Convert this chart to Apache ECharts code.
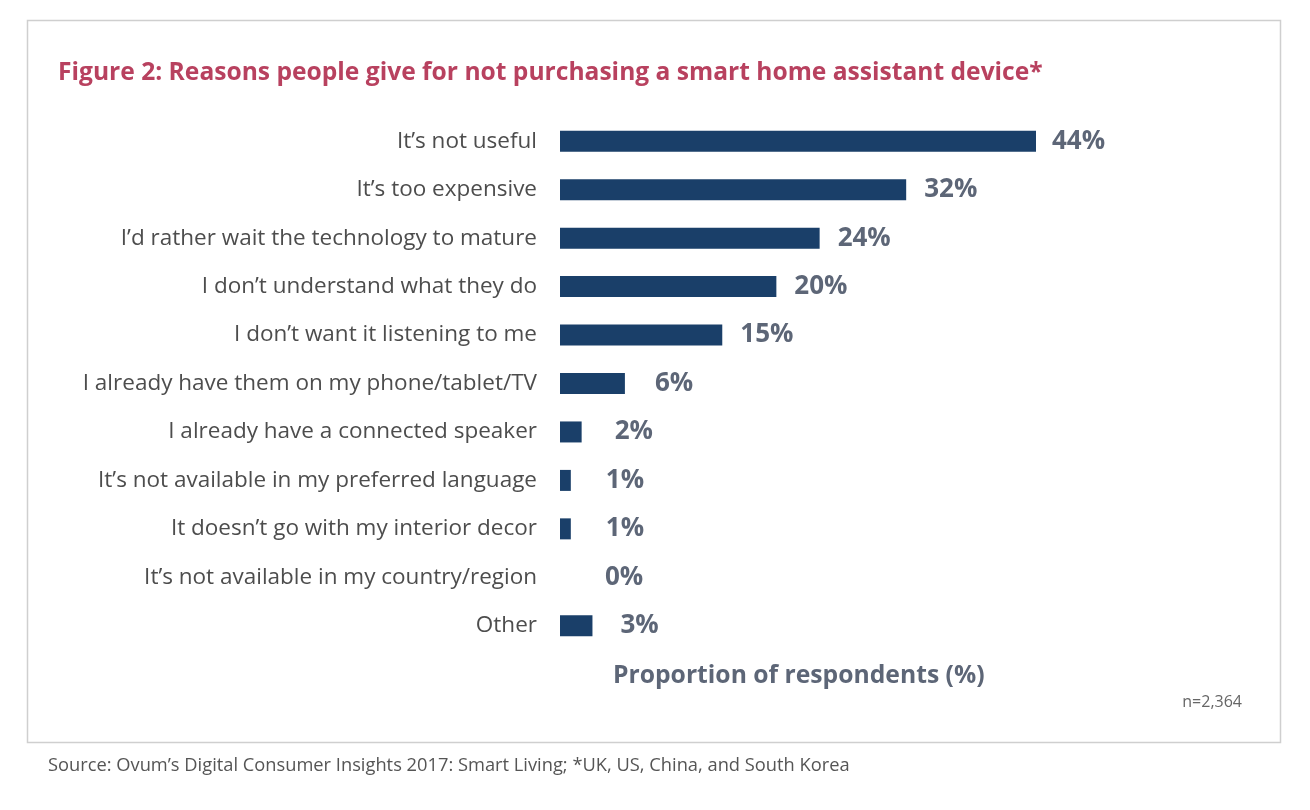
<!DOCTYPE html>
<html><head><meta charset="utf-8">
<script src="https://cdn.jsdelivr.net/npm/echarts@6/dist/echarts.min.js"></script>
<style>html,body{margin:0;padding:0;background:#fff}#c{width:1310px;height:810px}</style>
</head><body><div id="c"></div>
<script>
const categories = [
  "It’s not useful",
  "It’s too expensive",
  "I’d rather wait the technology to mature",
  "I don’t understand what they do",
  "I don’t want it listening to me",
  "I already have them on my phone/tablet/TV",
  "I already have a connected speaker",
  "It’s not available in my preferred language",
  "It doesn’t go with my interior decor",
  "It’s not available in my country/region",
  "Other"
];
const values = [44, 32, 24, 20, 15, 6, 2, 1, 1, 0, 3];
const titleText = "Figure 2: Reasons people give for not purchasing a smart home assistant device*";
const axisTitle = "Proportion of respondents (%)";
const sampleNote = "n=2,364";
const sourceNote = "Source: Ovum’s Digital Consumer Insights 2017: Smart Living; *UK, US, China, and South Korea";

const labelGaps = [16, 18, 18, 18, 18, 30, 33, 35, 35, 45, 28];

const chart = echarts.init(document.getElementById('c'));
chart.setOption({
  animation: false,
  backgroundColor: '#fff',
  graphic: [
    {type: 'rect', shape: {x: 27.5, y: 20.5, width: 1253, height: 722}, style: {fill: 'none', stroke: '#cfcfcf', lineWidth: 1.5}},
    {type: 'text', left: 58, top: 60, style: {text: titleText, fill: '#b8415f', font: 'bold 24.6px "Open Sans"'}},
    {type: 'text', left: 613, top: 663, style: {text: axisTitle, fill: '#5d6677', font: 'bold 24.7px "Open Sans"'}},
    {type: 'text', right: 68, top: 694, style: {text: sampleNote, fill: '#666', font: '16px "Open Sans"'}},
    {type: 'text', left: 48, top: 757, style: {text: sourceNote, fill: '#555', font: '18.3px "Open Sans"'}}
  ],
  grid: {left: 560, top: 117, width: 476, height: 533},
  xAxis: {type: 'value', min: 0, max: 44, show: false},
  yAxis: {
    type: 'category', data: categories, inverse: true,
    axisLine: {show: false}, axisTick: {show: false},
    axisLabel: {margin: 23, color: '#4d4d4d', fontSize: 22.5, fontFamily: 'Open Sans'}
  },
  series: [{
    type: 'bar', barWidth: 21,
    itemStyle: {color: '#1a3f69'},
    data: values.map((v, i) => ({
      value: v,
      label: {show: true, position: 'right', distance: labelGaps[i], formatter: '{c}%',
        color: '#5d6677', fontSize: 26, fontWeight: 'bold', fontFamily: 'Open Sans'}
    }))
  }]
});
</script></body></html>
